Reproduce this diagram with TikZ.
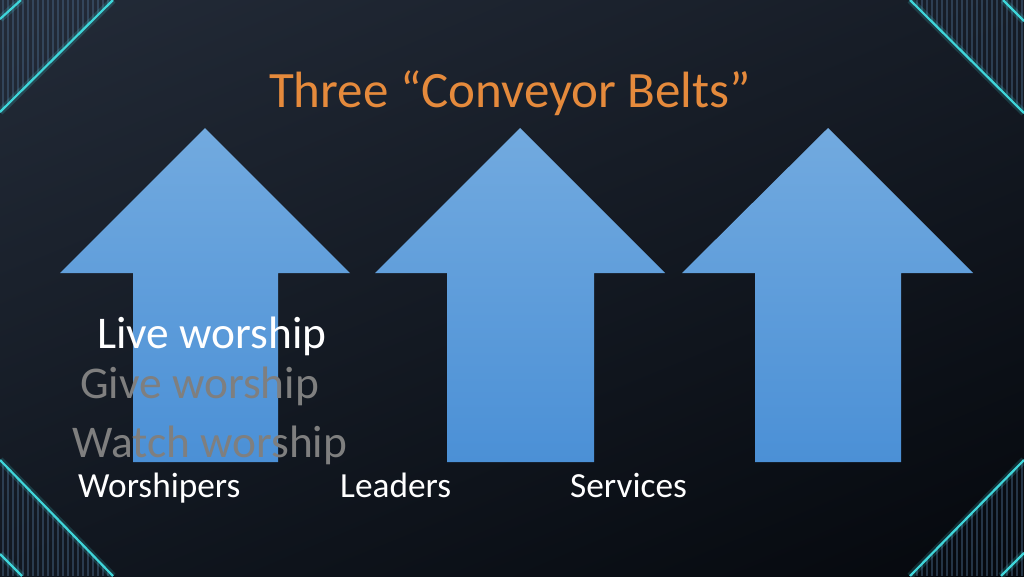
\documentclass[tikz,border=0pt]{standalone}
\usepackage{fontspec}
\setmainfont{Carlito}
\usetikzlibrary{shadings}
\definecolor{bgA}{HTML}{232B38}
\definecolor{bgB}{HTML}{161C26}
\definecolor{bgC}{HTML}{111720}
\definecolor{bgD}{HTML}{05080D}
\definecolor{cyanline}{HTML}{3FD6DA}
\definecolor{stripe}{HTML}{4A6A8A}
\definecolor{arrowtop}{HTML}{72AADF}
\definecolor{arrowbot}{HTML}{4B90D6}
\definecolor{titleor}{HTML}{E58A3C}
\definecolor{dimgray}{HTML}{7F7F7F}
\tikzset{
  glowline/.style={cyanline, line width=2.2pt},
  glowhalo/.style={cyanline, line width=7pt, opacity=0.18},
  stripes/.style={stripe, line width=1.2pt, opacity=0.45},
  bigarrow/.style={top color=arrowtop, bottom color=arrowbot, draw=none},
  livetxt/.style={anchor=base west, font=\fontsize{45.4}{50}\selectfont, text=white, inner sep=0pt},
  dimtxt/.style={anchor=base west, font=\fontsize{45.4}{50}\selectfont, text=dimgray, inner sep=0pt},
  labeltxt/.style={anchor=base west, font=\fontsize{35.3}{40}\selectfont, text=white, inner sep=0pt},
}
\begin{document}
\begin{tikzpicture}[x=1pt,y=-1pt]
\useasboundingbox (0,0) rectangle (1024,576);
\shade[upper left=bgA, upper right=bgB, lower left=bgC, lower right=bgD] (0,0) rectangle (1024,576);

% corner stripes
\begin{scope}
  \clip (0,0) -- (113,0) -- (0,112) -- cycle;
  \foreach \x in {3,8,...,113} \draw[stripes] (\x,0) -- (\x,115);
\end{scope}
\begin{scope}
  \clip (1024,0) -- (910,0) -- (1024,113) -- cycle;
  \foreach \x in {912,917,...,1024} \draw[stripes] (\x,0) -- (\x,115);
\end{scope}
\begin{scope}
  \clip (0,576) -- (0,460) -- (113,576) -- cycle;
  \foreach \x in {3,8,...,113} \draw[stripes] (\x,460) -- (\x,576);
\end{scope}
\begin{scope}
  \clip (1024,576) -- (910,576) -- (1024,460) -- cycle;
  \foreach \x in {912,917,...,1024} \draw[stripes] (\x,460) -- (\x,576);
\end{scope}

% corner lines
\coordinate (tl1) at (0,112); \coordinate (tl2) at (113,0);
\coordinate (tl3) at (0,19);  \coordinate (tl4) at (21,0);
\coordinate (tr1) at (910,0); \coordinate (tr2) at (1024,113);
\coordinate (tr3) at (1003,0); \coordinate (tr4) at (1024,21);
\coordinate (bl1) at (0,460); \coordinate (bl2) at (113,576);
\coordinate (bl3) at (0,554); \coordinate (bl4) at (22,576);
\coordinate (br1) at (910,576); \coordinate (br2) at (1024,460);
\coordinate (br3) at (1001,576); \coordinate (br4) at (1024,553);
\foreach \a/\b in {tl1/tl2,tl3/tl4,tr1/tr2,tr3/tr4,bl1/bl2,bl3/bl4,br1/br2,br3/br4}{
  \draw[glowhalo] (\a) -- (\b);
  \draw[glowline] (\a) -- (\b);
}

% title
\node[anchor=base, font=\fontsize{51}{58}\selectfont, text=titleor, inner sep=0pt] (title) at (510,107) {Three “Conveyor Belts”};

% arrows
\path[bigarrow] (205,128) -- (350,273) -- (278,273) -- (278,462) -- (133,462) -- (133,273) -- (60,273) -- cycle;
\path[bigarrow] (520,128) -- (665,273) -- (594,273) -- (594,462) -- (447,462) -- (447,273) -- (375,273) -- cycle;
\path[bigarrow] (828,128) -- (973,273) -- (901,273) -- (901,462) -- (755,462) -- (755,273) -- (682,273) -- cycle;

% texts
\node[livetxt] (live) at (97,348) {Live worship};
\node[dimtxt] (give) at (80,398) {Give worship};
\node[dimtxt] (watch) at (72,457) {Watch worship};
\node[labeltxt] (worshipers) at (78,497) {Worshipers};
\node[labeltxt] (leaders) at (340,497) {Leaders};
\node[labeltxt] (services) at (570,497) {Services};
\end{tikzpicture}
\end{document}
